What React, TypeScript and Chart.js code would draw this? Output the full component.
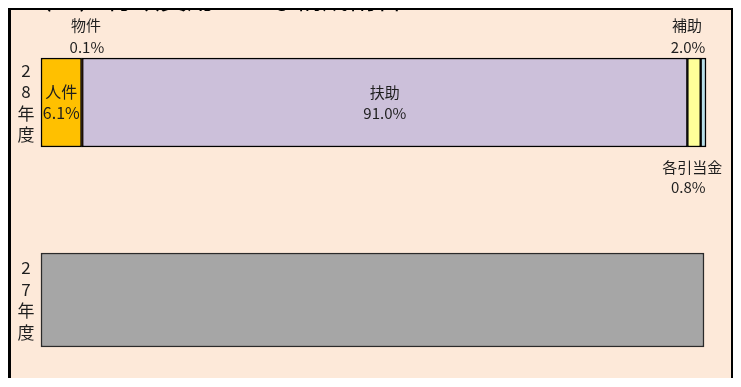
import React, { useEffect, useRef } from 'react';
import { Chart, registerables } from 'chart.js';

Chart.register(...registerables);

const titleText = '（１）行政費用の主な構成割合';
const yearLabels = [['2', '8', '年', '度'], ['2', '7', '年', '度']];
const seriesNames = ['人件', '物件', '扶助', '補助', '各引当金'];
const fy28Values = [6.1, 0.1, 91.0, 2.0, 0.8];
const fy27Values = [99.7];

const seriesColors = ['#FFC000', '#E46C0A', '#CCC0DA', '#FFFF99', '#B7DEE8'];
const grayColor = '#A6A6A6';
const FONT = '"Noto Sans CJK JP", "Noto Sans", sans-serif';

// label placement (style only)
const placement: Record<string, { mode: string; dx1: number; dx2: number }> = {
  '人件': { mode: 'inside', dx1: 0, dx2: 0 },
  '物件': { mode: 'above', dx1: 4, dx2: 5 },
  '扶助': { mode: 'inside', dx1: 0, dx2: 0 },
  '補助': { mode: 'above', dx1: -7, dx2: -6 },
  '各引当金': { mode: 'below', dx1: -11, dx2: -15 },
};

const labelPlugin = {
  id: 'segLabels',
  afterDatasetsDraw(chart: any) {
    const ctx = chart.ctx;
    ctx.save();
    ctx.fillStyle = '#1e1e1e';
    ctx.textAlign = 'center';
    ctx.textBaseline = 'middle';
    seriesNames.forEach((name, i) => {
      const el = chart.getDatasetMeta(i).data[0];
      if (!el) return;
      const p = el.getProps(['x', 'y', 'base', 'height'], true);
      const cx = (p.x + p.base) / 2;
      const pl = placement[name];
      let y1 = p.y - 10.5;
      let y2 = p.y + 10.5;
      ctx.font = `${i === 0 ? 16 : 15}px ${FONT}`;
      if (pl.mode === 'above') {
        y1 = p.y - p.height / 2 - 33;
        y2 = p.y - p.height / 2 - 11;
      } else if (pl.mode === 'below') {
        y1 = p.y + p.height / 2 + 20;
        y2 = p.y + p.height / 2 + 40;
      }
      ctx.fillText(name, cx + pl.dx1, y1);
      ctx.fillText(fy28Values[i].toFixed(1) + '%', cx + pl.dx2, y2);
    });
    ctx.restore();
  },
};

export default function App() {
  const canvasRef = useRef<HTMLCanvasElement | null>(null);

  useEffect(() => {
    if (!canvasRef.current) return;
    const datasets: any[] = seriesNames.map((name, i) => ({
      label: name,
      data: [fy28Values[i], null],
      backgroundColor: seriesColors[i],
      borderColor: '#000',
      borderWidth: 1.5,
      borderSkipped: false,
      barThickness: 89,
      clip: false,
    }));
    datasets.push({
      label: '27年度',
      data: [null, fy27Values[0]],
      backgroundColor: grayColor,
      borderColor: '#2a2a2a',
      borderWidth: 1.5,
      borderSkipped: false,
      barThickness: 94,
      clip: false,
    });

    const chart = new Chart(canvasRef.current, {
      type: 'bar',
      data: { labels: yearLabels as any, datasets },
      options: {
        indexAxis: 'y',
        animation: false,
        responsive: false,
        maintainAspectRatio: false,
        layout: { padding: { top: 92.5, bottom: 90, left: 0, right: 25 } },
        plugins: {
          legend: { display: false },
          tooltip: { enabled: false },
          title: { display: false },
        },
        scales: {
          x: {
            stacked: true,
            min: 0,
            max: 100,
            display: false,
          },
          y: {
            stacked: true,
            offset: false,
            grid: { display: false, drawTicks: false },
            border: { display: false },
            afterFit: (scale: any) => {
              scale.width = 30;
            },
            ticks: {
              crossAlign: 'center',
              padding: 6.5,
              color: '#1e1e1e',
              font: { size: 17, family: FONT, lineHeight: 1.26 },
              autoSkip: false,
            },
          },
        },
      },
      plugins: [labelPlugin],
    });
    return () => chart.destroy();
  }, []);

  return (
    <div style={{ position: 'relative', width: 726, height: 370 }}>
      <div
        style={{
          position: 'absolute',
          left: 0,
          top: -1,
          width: 726,
          height: 392,
          border: '3px solid #000',
          boxSizing: 'border-box',
          background: '#FDE9D9',
          overflow: 'hidden',
        }}
      >
        <canvas ref={canvasRef} width={720} height={380} style={{ display: 'block', width: 720, height: 380 }} />
      </div>
      <div
        style={{
          position: 'absolute',
          left: 17,
          top: -24,
          zIndex: 2,
          fontFamily: FONT,
          fontSize: 27,
          lineHeight: '27px',
          color: '#000',
          whiteSpace: 'nowrap',
        }}
      >
        {titleText}
      </div>
    </div>
  );
}
